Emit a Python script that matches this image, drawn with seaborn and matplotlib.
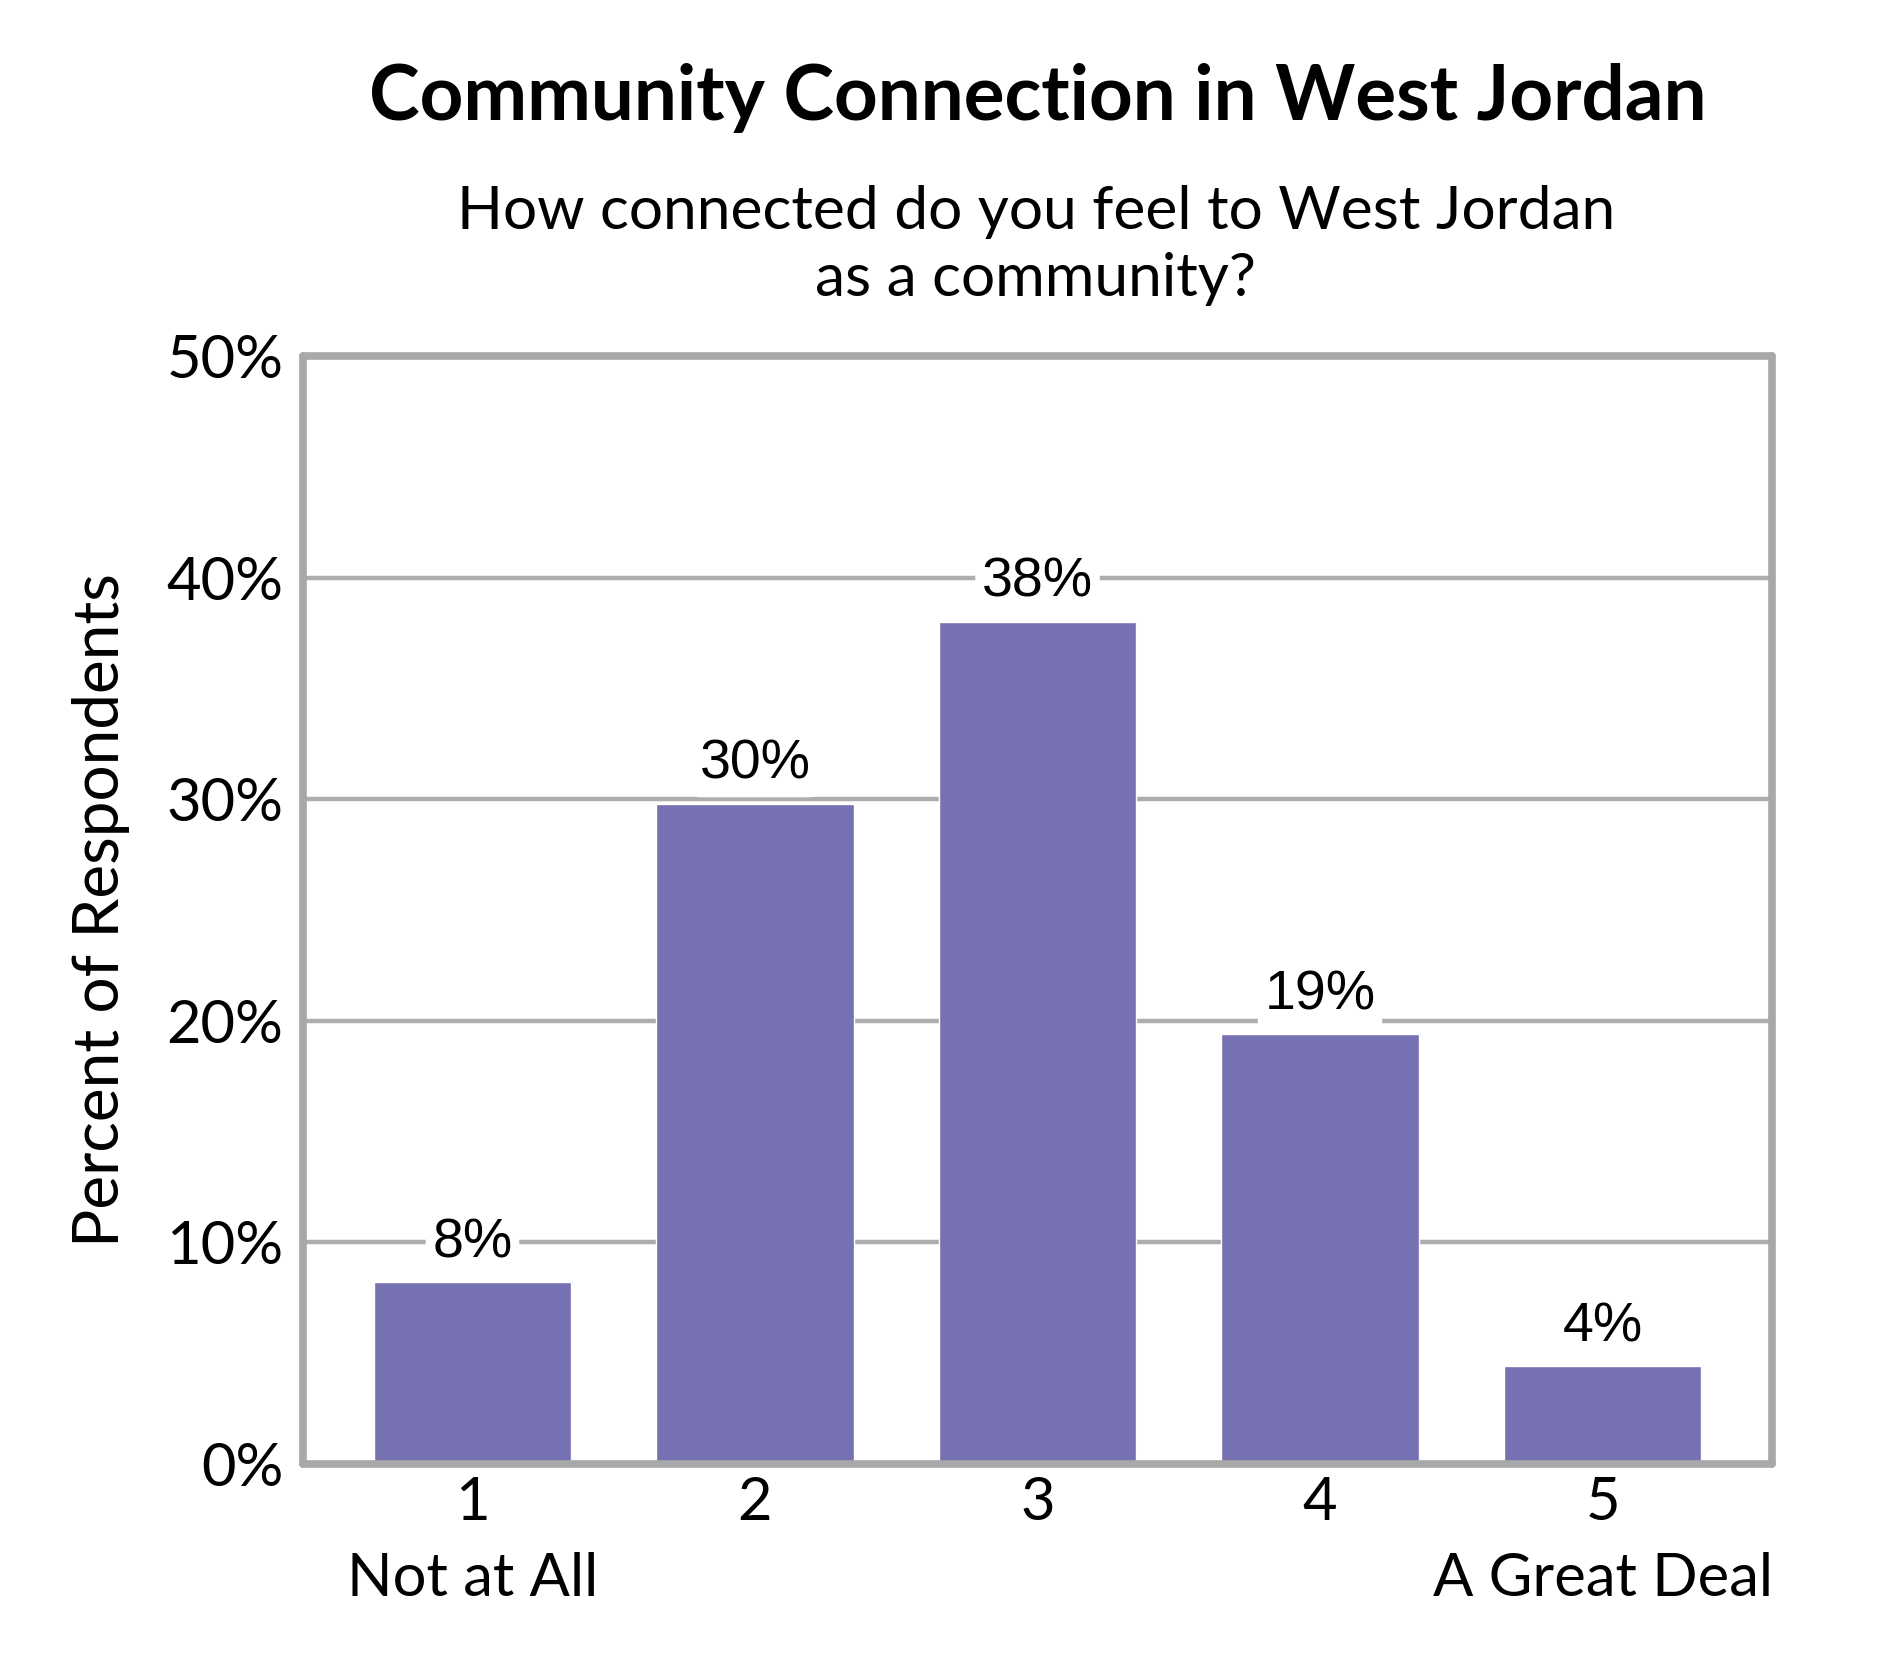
import matplotlib
matplotlib.use('Agg')
import matplotlib.pyplot as plt
import seaborn as sns
from matplotlib.ticker import PercentFormatter, MultipleLocator

categories = ['1', '2', '3', '4', '5']
tick_labels = ['1\nNot at All', '2', '3', '4', '5\nA Great Deal']
percents = [8.2, 29.8, 38.0, 19.4, 4.4]

title = 'Community Connection in West Jordan'
subtitle = ['How connected do you feel to West Jordan', 'as a community?']
ylabel = 'Percent of Respondents'

BAR = '#7571B2'
GRID = '#ADADAD'
FRAME = '#A8A8A8'
FONT = 'Lato'


def main():
    sns.set_theme(style='white')
    plt.rcParams['font.family'] = [FONT, 'DejaVu Sans']
    plt.rcParams.update({'text.color': 'black', 'axes.labelcolor': 'black',
                         'xtick.color': 'black', 'ytick.color': 'black'})

    fig = plt.figure(figsize=(18.9, 16.8), dpi=100)
    ax = fig.add_axes([0.1603, 0.1286, 0.9376 - 0.1603, 0.7881 - 0.1286])

    sns.barplot(x=categories, y=percents, color=BAR, width=0.7,
                saturation=1, ax=ax, zorder=2)

    ax.set_xlim(-0.6, 4.6)
    ax.set_ylim(0, 50)
    ax.yaxis.set_major_locator(MultipleLocator(10))
    ax.yaxis.set_major_formatter(PercentFormatter(decimals=0))
    ax.set_axisbelow(True)
    ax.grid(axis='y', color=GRID, linewidth=3.2, zorder=0)
    ax.grid(axis='x', visible=False)

    for sp in ax.spines.values():
        sp.set_visible(True)
        sp.set_color(FRAME)
        sp.set_linewidth(5.5)
        sp.set_capstyle('round')
        sp.set_zorder(3)

    ax.set_xticks(range(len(categories)))
    ax.set_xticklabels(tick_labels, linespacing=1.5)
    ax.tick_params(axis='x', length=0, pad=9, labelsize=43)
    ax.tick_params(axis='y', length=0, pad=14, labelsize=43)
    for lab in ax.get_yticklabels():
        lab.set_verticalalignment('center_baseline')

    ax.set_xlabel('')
    ax.set_ylabel(ylabel, fontsize=46)
    ax.yaxis.set_label_coords(-0.118, 0.5)

    for i, v in enumerate(percents):
        ax.annotate(f'{v:.0f}%', xy=(i, v), xytext=(0, 18), textcoords='offset points',
                    ha='center', va='baseline', fontsize=40, color='black',
                    family=['Liberation Sans', 'DejaVu Sans'], zorder=4,
                    bbox=dict(boxstyle='round,pad=0.12', fc='white', ec='none'))

    fig.text(0.549, 0.9417, title, ha='center', va='center',
             fontsize=55, fontweight='bold')
    fig.text(0.548, 1 - 229 / 1680, subtitle[0], ha='center', va='baseline', fontsize=43.5)
    fig.text(0.548, 1 - 296 / 1680, subtitle[1], ha='center', va='baseline', fontsize=43.5)

    fig.savefig('out.png', dpi=100, facecolor='white')


if __name__ == '__main__':
    main()
